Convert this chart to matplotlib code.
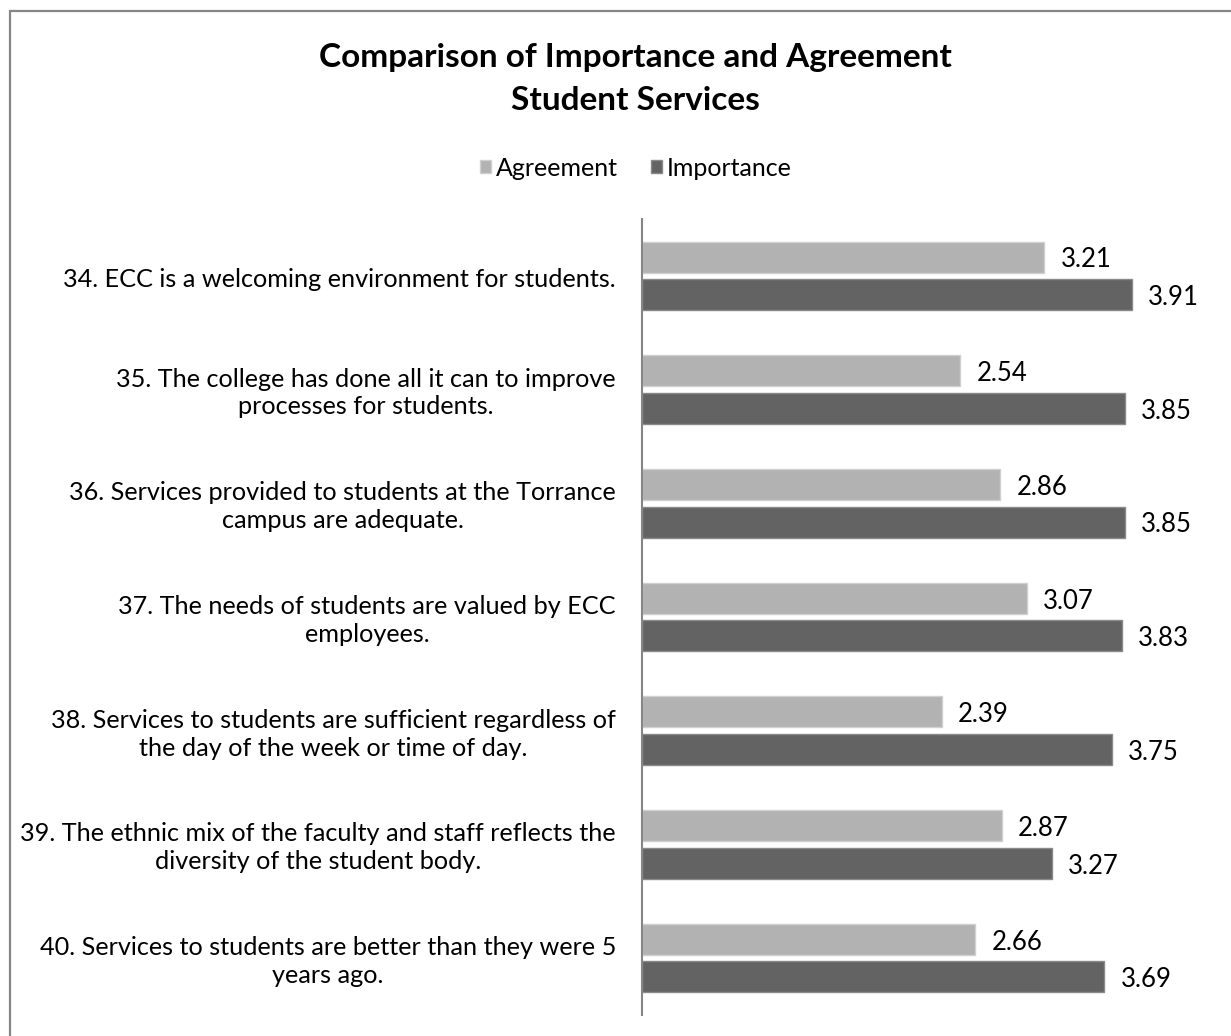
import matplotlib
matplotlib.use("Agg")
import matplotlib.pyplot as plt
from matplotlib.patches import Rectangle

categories = [
    "34. ECC is a welcoming environment for students.",
    "35. The college has done all it can to improve\nprocesses for students.",
    "36. Services provided to students at the Torrance\ncampus are adequate.",
    "37. The needs of students are valued by ECC\nemployees.",
    "38. Services to students are sufficient regardless of\nthe day of the week or time of day.",
    "39. The ethnic mix of the faculty and staff reflects the\ndiversity of the student body.",
    "40. Services to students are better than they were 5\nyears ago.",
]
agreement = [3.21, 2.54, 2.86, 3.07, 2.39, 2.87, 2.66]
importance = [3.91, 3.85, 3.85, 3.83, 3.75, 3.27, 3.69]
series_names = ["Agreement", "Importance"]

FONT = "Lato"
plt.rcParams["font.family"] = [FONT, "DejaVu Sans"]

W, H = 1231, 1036
fig = plt.figure(figsize=(W / 100, H / 100), dpi=100)
fig.patch.set_facecolor("white")

# outer chart frame (runs off the right and bottom edges)
fig.add_artist(Rectangle((10 / W, -0.05), 1.2, (H - 11) / H + 0.05,
                         transform=fig.transFigure, fill=False,
                         edgecolor="#868686", linewidth=1.6))

ax_left, ax_right = 642 / W, 1206 / W
ax_top, ax_bottom = (H - 219) / H, (H - 1015) / H
ax = fig.add_axes([ax_left, ax_bottom, ax_right - ax_left, ax_top - ax_bottom])

light, dark = "#b2b2b2", "#636363"
n = len(categories)
ys = list(range(n))
off, h = 0.165, 0.272

ax.barh([y - off for y in ys], agreement, height=h, color=light,
        edgecolor="#d0d0d0", linewidth=1.0, label=series_names[0])
ax.barh([y + off for y in ys], importance, height=h, color=dark,
        edgecolor="#8a8a8a", linewidth=1.0, label=series_names[1])

VAL_FS = 18.5
dy = 0.025
for y, a, b in zip(ys, agreement, importance):
    ax.text(a + 0.13, y - off + dy, f"{a:.2f}", va="center", ha="left",
            fontsize=VAL_FS, color="black")
    ax.text(b + 0.13, y + off + dy, f"{b:.2f}", va="center", ha="left",
            fontsize=VAL_FS, color="black")

ax.set_xlim(0, 4.5)
ax.set_ylim(n - 0.5, -0.5)
ax.set_xticks([])
ax.set_yticks([])
for s in ["top", "right", "bottom"]:
    ax.spines[s].set_visible(False)
ax.spines["left"].set_color("#868686")
ax.spines["left"].set_linewidth(1.5)

for y, lab in zip(ys, categories):
    ax.text(-26 / 564, y + 0.03, lab, transform=ax.get_yaxis_transform(),
            ha="right", va="center", multialignment="center",
            fontsize=18.2, color="black", linespacing=1.25)

fig.text(635 / W, (H - 58) / H, "Comparison of Importance and Agreement",
         ha="center", va="center", fontsize=24, fontweight="bold")
fig.text(635 / W, (H - 101) / H, "Student Services",
         ha="center", va="center", fontsize=24, fontweight="bold")

handles, labels = ax.get_legend_handles_labels()
leg = fig.legend(handles, labels, loc="center", bbox_to_anchor=(636 / W, (H - 168) / H),
                 ncol=2, frameon=False, fontsize=18, handlelength=0.45,
                 handleheight=0.45, handletextpad=0.2, columnspacing=1.3)

fig.savefig("out.png", dpi=100, facecolor="white")
